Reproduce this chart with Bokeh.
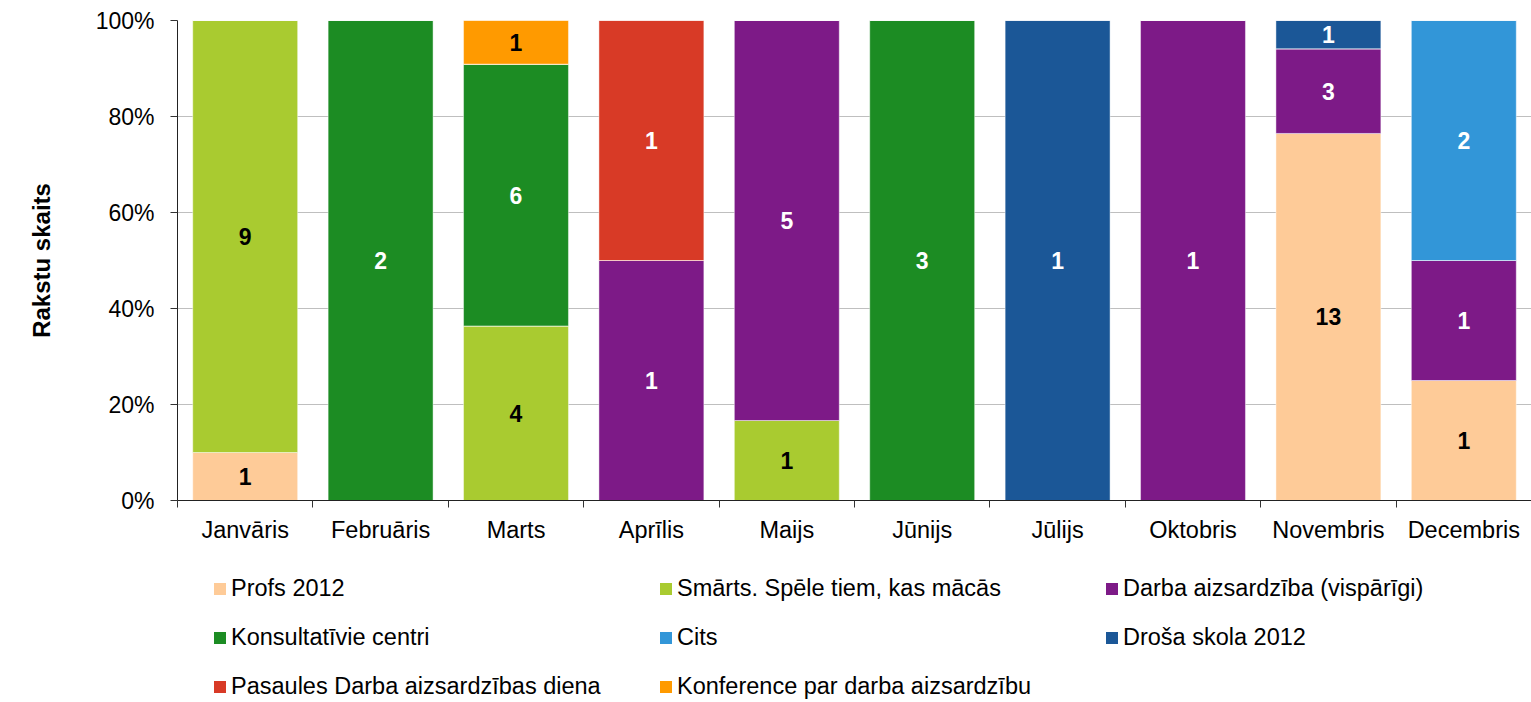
from bokeh.plotting import figure
from bokeh.layouts import column
from bokeh.models import (ColumnDataSource, Range1d, FixedTicker, PrintfTickFormatter,
                          Legend, LegendItem)
from bokeh.core.properties import value
from bokeh.embed import file_html
from bokeh.resources import INLINE

months = ["Janvāris", "Februāris", "Marts", "Aprīlis", "Maijs", "Jūnijs",
          "Jūlijs", "Oktobris", "Novembris", "Decembris"]

series_names = ["Profs 2012", "Smārts. Spēle tiem, kas mācās", "Darba aizsardzība (vispārīgi)",
                "Konsultatīvie centri", "Cits", "Droša skola 2012",
                "Pasaules Darba aizsardzības diena", "Konference par darba aizsardzību"]

profs = [1, 0, 0, 0, 0, 0, 0, 0, 13, 1]
smarts = [9, 0, 4, 0, 1, 0, 0, 0, 0, 0]
darba = [0, 0, 0, 1, 5, 0, 0, 1, 3, 1]
konsult = [0, 2, 6, 0, 0, 3, 0, 0, 0, 0]
cits = [0, 0, 0, 0, 0, 0, 0, 0, 0, 2]
drosa = [0, 0, 0, 0, 0, 0, 1, 0, 1, 0]
pasaules = [0, 0, 0, 1, 0, 0, 0, 0, 0, 0]
konference = [0, 0, 1, 0, 0, 0, 0, 0, 0, 0]

series = [profs, smarts, darba, konsult, cits, drosa, pasaules, konference]
colors = ["#FECB98", "#A9CB30", "#7D1A87", "#1C8C23", "#3296D8", "#1B5797", "#D83A26", "#FF9A00"]
label_colors = ["black", "black", "white", "white", "white", "white", "white", "black"]

FONT = "Liberation Sans"

totals = [sum(c) for c in zip(*series)]
data = {"x": list(range(len(months)))}
keys = []
for i, s in enumerate(series):
    k = f"s{i}"
    keys.append(k)
    data[k] = [v / t * 100 for v, t in zip(s, totals)]
src = ColumnDataSource(data)

# labels
lx, ly, lt, lc = [], [], [], []
for j in range(len(months)):
    base = 0.0
    for i, s in enumerate(series):
        pct = data[keys[i]][j]
        if s[j] > 0:
            lx.append(j)
            ly.append(base + pct / 2)
            lt.append(str(s[j]))
            lc.append(label_colors[i])
        base += pct
lsrc = ColumnDataSource(dict(x=lx, y=ly, t=lt, c=lc))

p = figure(width=1531, height=560, x_range=Range1d(-0.5, len(months) - 0.5),
           y_range=Range1d(0, 100), output_backend="svg", toolbar_location=None,
           min_border_left=177, min_border_right=0, min_border_top=20, min_border_bottom=60)
p.outline_line_color = None

rs = p.vbar_stack(keys, x="x", width=0.775, fill_color=colors, line_color="white",
                  line_alpha=0.45, line_width=1, source=src)

p.text(x="x", y="y", text="t", text_color="c", source=lsrc, text_align="center",
       text_baseline="middle", text_font=value(FONT), text_font_size="23px",
       text_font_style="bold")

# axes
p.xgrid.visible = False
p.ygrid.grid_line_color = "#BFBFBF"
p.ygrid.grid_line_width = 1

p.xaxis.ticker = FixedTicker(ticks=list(range(len(months))),
                             minor_ticks=[i - 0.5 for i in range(len(months) + 1)])
p.xaxis.major_label_overrides = {i: m for i, m in enumerate(months)}
p.xaxis.major_tick_line_color = None
p.xaxis.major_tick_out = 7
p.xaxis.major_tick_in = 0
p.xaxis.minor_tick_line_color = "#333333"
p.xaxis.minor_tick_out = 7
p.xaxis.minor_tick_in = 0
p.xaxis.axis_line_color = "#222222"
p.xaxis.major_label_standoff = 9

p.yaxis.ticker = FixedTicker(ticks=[0, 20, 40, 60, 80, 100])
p.yaxis.formatter = PrintfTickFormatter(format="%d%%")
p.yaxis.major_tick_out = 7
p.yaxis.major_tick_in = 0
p.yaxis.minor_tick_line_color = None
p.yaxis.axis_line_color = "#222222"
p.yaxis.major_tick_line_color = "#333333"
p.yaxis.major_label_standoff = 16
p.yaxis.axis_label = "Rakstu skaits"
p.yaxis.axis_label_text_font = FONT
p.yaxis.axis_label_text_font_size = "24px"
p.yaxis.axis_label_text_font_style = "bold"
p.yaxis.axis_label_standoff = 38

for ax in (p.xaxis, p.yaxis):
    ax.major_label_text_font = FONT
    ax.major_label_text_color = "black"
    ax.axis_label_text_color = "black"
p.xaxis.major_label_text_font_size = "23.5px"
p.yaxis.major_label_text_font_size = "23px"

# legend in its own strip below the chart (frame aligned with the chart's frame);
# the same series are stacked there again, outside its visible range, only to feed the legend
lp = figure(width=1531, height=142, x_range=Range1d(1000, 1001), y_range=Range1d(1000, 1001),
            output_backend="svg", toolbar_location=None, x_axis_location=None,
            y_axis_location=None, min_border=0, min_border_left=177)
lp.outline_line_color = None
lp.xgrid.visible = False
lp.ygrid.visible = False
lr = lp.vbar_stack(keys, x="x", width=0.775, fill_color=colors, line_color=None, source=src)

items = [LegendItem(label=n, renderers=[r]) for n, r in zip(series_names, lr)]
legend = Legend(items=items, ncols=3, orientation="horizontal", location=(35, 2),
                margin=0, padding=0, spacing=22, glyph_width=15, glyph_height=15,
                label_width=405, label_height=27, label_standoff=4,
                label_text_font=FONT, label_text_font_size="23.5px",
                label_text_color="black",
                border_line_color=None, background_fill_alpha=0)
lp.add_layout(legend, "center")

open("out.html", "w").write(file_html(column(p, lp, spacing=0), INLINE))
